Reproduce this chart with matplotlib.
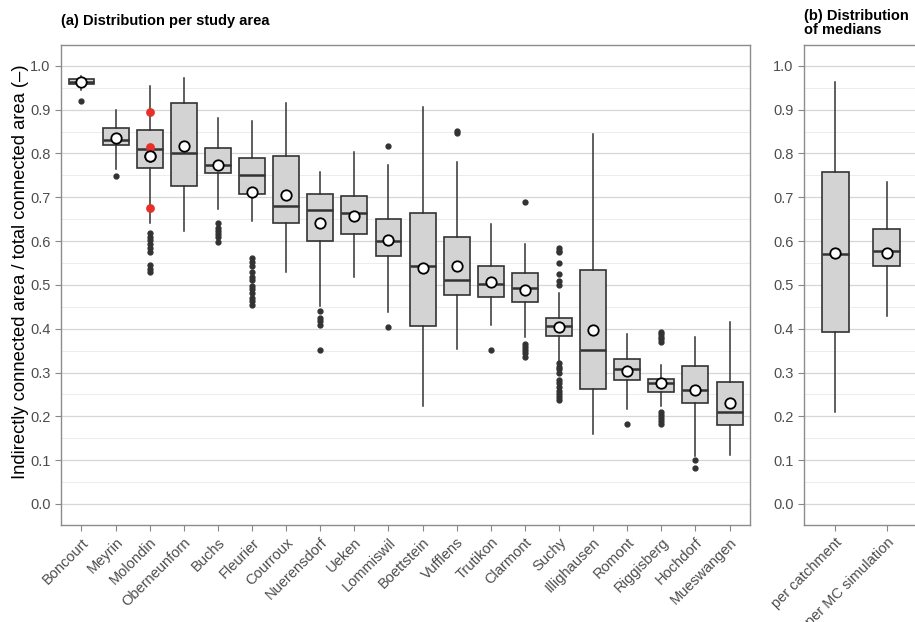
import matplotlib
matplotlib.use("Agg")

import matplotlib.pyplot as plt
import numpy as np

# ── data ─────────────────────────────────────────────────────────────────────
AREAS = ["Boncourt", "Meyrin", "Molondin", "Oberneunforn", "Buchs", "Fleurier",
         "Courroux", "Nuerensdorf", "Ueken", "Lommiswil", "Boettstein", "Vufflens",
         "Trutikon", "Clarmont", "Suchy", "Illighausen", "Romont", "Riggisberg",
         "Hochdorf", "Mueswangen"]

Q1     = [0.958, 0.819, 0.766, 0.726, 0.756, 0.708, 0.641, 0.601, 0.615, 0.565,
          0.406, 0.476, 0.473, 0.462, 0.384, 0.263, 0.283, 0.256, 0.230, 0.180]
MEDIAN = [0.964, 0.831, 0.810, 0.801, 0.774, 0.751, 0.679, 0.671, 0.663, 0.600,
          0.542, 0.511, 0.502, 0.492, 0.406, 0.352, 0.307, 0.276, 0.260, 0.209]
Q3     = [0.970, 0.859, 0.853, 0.916, 0.812, 0.789, 0.795, 0.707, 0.702, 0.651,
          0.664, 0.610, 0.544, 0.527, 0.425, 0.534, 0.330, 0.285, 0.314, 0.279]
WLO    = [0.944, 0.765, 0.642, 0.624, 0.673, 0.645, 0.529, 0.452, 0.517, 0.439,
          0.224, 0.353, 0.409, 0.381, 0.325, 0.160, 0.216, 0.224, 0.110, 0.112]
WHI    = [0.977, 0.899, 0.955, 0.972, 0.880, 0.874, 0.915, 0.757, 0.804, 0.774,
          0.906, 0.781, 0.639, 0.594, 0.482, 0.845, 0.388, 0.317, 0.380, 0.416]
MEAN   = [0.963, 0.835, 0.795, 0.816, 0.774, 0.712, 0.704, 0.641, 0.658, 0.603,
          0.538, 0.544, 0.507, 0.488, 0.403, 0.396, 0.304, 0.276, 0.260, 0.231]
OUTLIERS = [
    [0.920],
    [0.749],
    [0.618, 0.610, 0.603, 0.594, 0.585, 0.576, 0.546, 0.536, 0.529],
    [],
    [0.641, 0.629, 0.622, 0.616, 0.610, 0.597],
    [0.562, 0.552, 0.543, 0.530, 0.518, 0.512, 0.497, 0.490, 0.482, 0.471,
     0.463, 0.454],
    [],
    [0.441, 0.424, 0.418, 0.409, 0.352],
    [],
    [0.817, 0.403],
    [],
    [0.852, 0.846],
    [0.351],
    [0.689, 0.365, 0.358, 0.352, 0.344, 0.335],
    [0.584, 0.578, 0.574, 0.549, 0.525, 0.508, 0.500, 0.321, 0.313, 0.308,
     0.298, 0.283, 0.275, 0.267, 0.258, 0.252, 0.245, 0.237],
    [],
    [0.182],
    [0.393, 0.387, 0.382, 0.376, 0.370, 0.209, 0.203, 0.197, 0.190, 0.183],
    [0.100, 0.081],
    [],
]
# highlighted values for Molondin
RED_AREA = "Molondin"
RED_VALUES = [0.894, 0.814, 0.676]

MED_GROUPS = ["per catchment", "per MC simulation"]
MED_Q1     = [0.393, 0.542]
MED_MEDIAN = [0.571, 0.578]
MED_Q3     = [0.757, 0.627]
MED_WLO    = [0.209, 0.428]
MED_WHI    = [0.964, 0.734]
MED_MEAN   = [0.572, 0.572]

# ── style ─────────────────────────────────────────────────────────────────────
plt.rcParams.update({
    "font.family": ["Liberation Sans", "DejaVu Sans"],
    "font.size":   10,
})

BOX_FILL = "#d3d3d3"
EDGE     = "#333333"
TXT      = "#4d4d4d"


def make_stats(q1, med, q3, wlo, whi, mean, fliers):
    return [dict(q1=a, med=b, q3=c, whislo=d, whishi=e, mean=f, fliers=g)
            for a, b, c, d, e, f, g in zip(q1, med, q3, wlo, whi, mean, fliers)]


def style_axis(ax, labels):
    ax.set_ylim(-0.048, 1.048)
    ax.set_xlim(0.4, len(labels) + 0.6)
    ax.set_yticks(np.arange(0, 1.01, 0.1))
    ax.set_yticks(np.arange(0.05, 1.0, 0.1), minor=True)
    ax.set_yticklabels([f"{v:.1f}" for v in np.arange(0, 1.01, 0.1)])
    ax.grid(axis="y", which="major", color="#d6d6d6", lw=0.9, zorder=0)
    ax.grid(axis="y", which="minor", color="#ececec", lw=0.7, zorder=0)
    ax.set_axisbelow(True)
    ax.tick_params(axis="y", which="minor", length=0)
    ax.tick_params(axis="both", which="major", colors="#888888", length=4,
                   labelcolor=TXT, labelsize=10.5)
    ax.set_xticks(range(1, len(labels) + 1))
    ax.set_xticklabels(labels, rotation=45, ha="right", rotation_mode="anchor")
    for sp in ax.spines.values():
        sp.set_color("#8c8c8c")
        sp.set_linewidth(1.0)


def draw_boxes(ax, stats, width):
    ax.bxp(stats, positions=range(1, len(stats) + 1), widths=width,
           patch_artist=True, showmeans=True, showcaps=False,
           boxprops=dict(facecolor=BOX_FILL, edgecolor=EDGE, lw=1.2),
           medianprops=dict(color=EDGE, lw=1.8),
           whiskerprops=dict(color=EDGE, lw=1.1),
           flierprops=dict(marker="o", markerfacecolor=EDGE, markeredgecolor=EDGE,
                           markersize=3.5),
           meanprops=dict(marker="o", markerfacecolor="white",
                          markeredgecolor="black", markeredgewidth=1.3,
                          markersize=7.5))


fig = plt.figure(figsize=(9.15, 6.22), dpi=100)
ax_a = fig.add_axes([0.0667, 0.156, 0.753, 0.772])
ax_b = fig.add_axes([0.8787, 0.156, 0.1246, 0.772])

# (a) per study area
draw_boxes(ax_a, make_stats(Q1, MEDIAN, Q3, WLO, WHI, MEAN, OUTLIERS), 0.76)
ridx = AREAS.index(RED_AREA) + 1
ax_a.scatter([ridx] * len(RED_VALUES), RED_VALUES, s=40, color="#e8302a",
             zorder=3, lw=0)
# keep mean marker above red dots
ax_a.plot([ridx], [MEAN[ridx - 1]], "o", ms=7.5, mfc="white", mec="black",
          mew=1.3, zorder=4)
style_axis(ax_a, AREAS)
ax_a.set_ylabel("Indirectly connected area / total connected area (\u2013)",
                fontsize=13.2, color="black")
ax_a.yaxis.set_label_coords(-0.047, 0.527)
ax_a.set_title("(a) Distribution per study area", loc="left", fontweight="bold",
               fontsize=10.5, pad=14)

# (b) distribution of medians
draw_boxes(ax_b, make_stats(MED_Q1, MED_MEDIAN, MED_Q3, MED_WLO, MED_WHI,
                            MED_MEAN, [[], []]), 0.52)
style_axis(ax_b, MED_GROUPS)
ax_b.set_title("(b) Distribution\nof medians", loc="left", fontweight="bold",
               fontsize=10.5, pad=8, linespacing=0.95)

fig.savefig("out.png", dpi=100)
